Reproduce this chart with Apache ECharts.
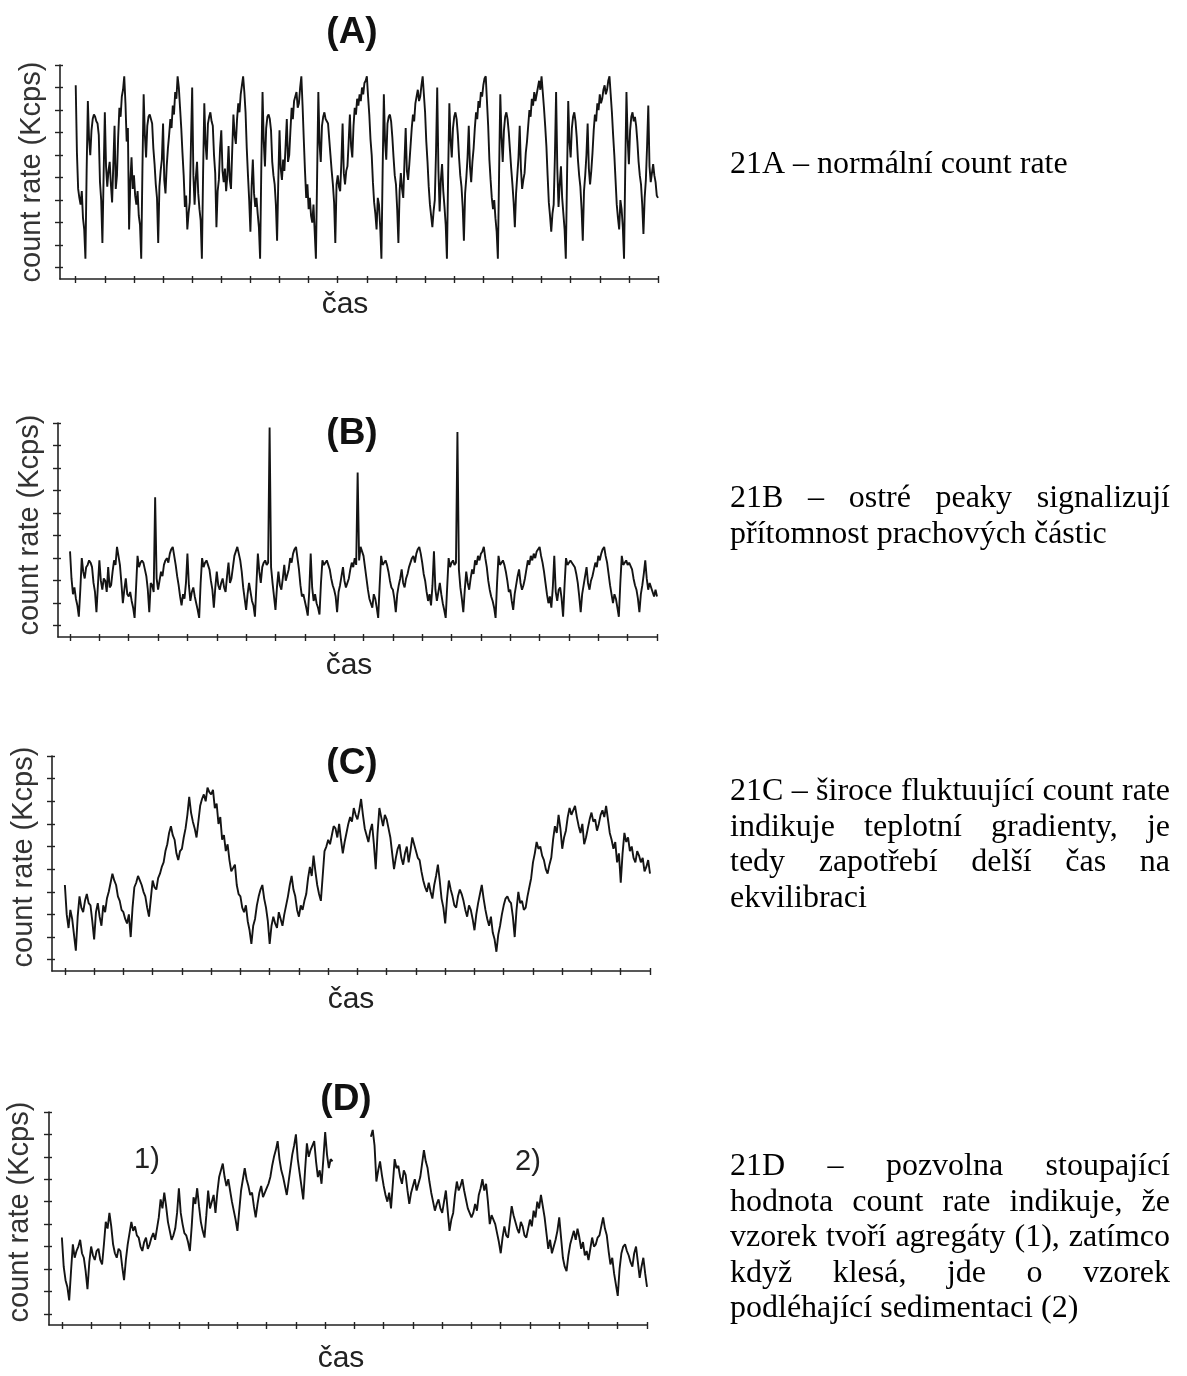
<!DOCTYPE html>
<html><head><meta charset="utf-8">
<script src="https://cdn.jsdelivr.net/npm/echarts@6/dist/echarts.min.js"></script>
<style>html,body{margin:0;padding:0;background:#fff}#c{width:1187px;height:1376px}</style>
</head><body><div id="c"></div>
<script>
// ---------- data ----------
const panelTitles = ['(A)', '(B)', '(C)', '(D)'];
const yAxisName = 'count rate (Kcps)';
const xAxisName = 'čas';
const segmentLabels = ['1)', '2)'];
const xTicks = [0,1,2,3,4,5,6,7,8,9,10,11,12,13,14,15,16,17,18,19,20];
const yTicks = [0.5,1.5,2.5,3.5,4.5,5.5,6.5,7.5,8.5,9.5];

const countA = [
 8.6,5.6,4.0,3.6,3.3,3.9,2.7,2.2,0.9,4.8,7.9,6.2,5.5,6.6,7.1,7.3,7.2,7.0,6.9,6.4,4.3,3.5,1.6,4.6,
 7.4,5.0,4.1,4.8,5.2,4.2,3.4,5.1,6.8,4.0,4.6,6.3,7.6,7.2,8.1,8.4,9.0,7.8,6.1,6.7,2.2,4.3,5.4,4.0,
 4.6,3.7,3.3,3.9,2.8,2.4,0.9,4.9,8.2,6.4,5.4,6.8,7.2,7.3,7.1,6.9,5.8,5.1,4.2,3.6,1.6,4.1,4.8,5.3,
 6.9,4.4,3.8,5.0,5.8,6.4,7.1,6.7,7.7,7.3,8.3,8.0,9.0,8.5,7.6,6.7,5.6,4.6,3.2,3.7,2.2,2.9,3.4,6.0,
 8.5,4.6,3.3,4.5,5.2,3.8,3.1,2.6,0.9,4.7,7.8,6.0,5.3,6.9,7.2,7.4,7.0,6.8,5.5,4.7,2.3,3.9,4.4,5.8,
 6.6,4.8,4.3,4.9,3.9,4.6,5.9,4.4,4.0,5.7,7.3,6.4,6.0,7.1,7.8,7.4,8.2,8.6,9.0,8.3,7.4,5.8,4.6,3.5,
 2.1,4.1,5.3,3.8,3.2,3.6,2.9,2.3,0.9,5.0,8.3,6.1,5.0,6.7,7.2,7.3,7.1,6.6,5.2,4.6,4.2,3.3,1.7,4.4,
 6.6,4.9,4.4,5.3,4.8,5.9,7.1,5.2,5.5,6.6,7.6,7.1,7.9,8.1,8.3,7.6,7.8,8.5,9.0,7.7,6.2,4.8,3.6,4.2,
 3.1,3.6,2.8,2.5,3.3,2.1,0.9,4.6,8.3,6.0,5.2,6.8,7.2,7.4,7.1,7.0,6.9,6.2,5.5,4.8,4.2,3.4,1.6,4.2,
 4.6,4.1,3.9,5.2,6.9,4.7,4.2,4.8,5.0,6.1,7.3,5.9,5.4,6.8,7.6,7.3,8.0,7.7,8.2,7.9,8.5,8.2,8.7,8.8,
 9.0,8.1,7.3,6.2,5.5,4.3,3.4,2.9,2.2,3.6,3.3,2.3,0.9,4.8,8.2,6.1,5.3,6.9,7.2,7.3,7.0,6.3,5.4,4.6,
 4.2,3.1,1.6,3.9,4.7,4.0,3.6,5.2,6.7,4.8,4.4,5.1,5.9,6.7,7.3,7.0,7.8,8.1,8.4,7.9,8.1,8.6,9.0,8.2,
 7.4,6.1,5.2,4.1,3.3,2.8,2.3,3.0,3.5,5.6,8.5,4.8,3.0,4.4,5.1,3.9,3.2,2.4,0.9,4.6,7.8,6.2,5.4,6.7,
 7.2,7.4,7.1,6.4,5.4,4.6,4.1,3.2,1.7,3.8,4.5,5.4,6.8,5.0,4.3,5.2,5.8,6.7,7.4,7.1,7.9,7.6,8.3,8.1,
 8.6,8.9,9.0,7.9,6.8,5.3,4.4,3.6,3.1,3.5,2.7,2.1,0.9,4.7,8.2,6.3,5.2,6.6,7.2,7.4,7.1,6.5,5.7,4.9,
 4.2,3.4,2.3,3.8,4.6,5.4,6.8,4.9,4.0,4.4,4.7,5.6,6.1,6.8,7.5,7.2,8.0,7.7,8.3,7.9,8.2,8.5,8.8,8.4,
 9.0,8.3,7.6,6.8,5.9,4.6,3.4,2.8,2.1,2.9,3.3,5.4,8.3,4.9,3.2,4.2,5.0,3.6,2.9,2.2,0.9,4.5,7.9,6.1,
 5.4,6.7,7.2,7.4,7.0,6.3,5.3,4.6,4.1,3.1,1.7,3.9,4.6,5.5,6.9,4.9,4.2,4.8,5.6,6.6,7.3,7.0,7.8,7.5,
 8.2,7.8,8.0,8.4,8.6,8.2,8.4,8.8,9.0,8.2,7.4,6.4,5.5,4.4,3.3,2.7,2.2,3.5,3.1,2.3,0.9,4.9,8.3,6.2,
 5.1,6.6,7.2,7.4,7.0,7.2,6.8,6.1,5.2,4.6,4.2,3.3,2.0,3.6,4.4,5.9,7.7,5.0,4.3,4.7,5.1,4.6,4.3,3.7,
 3.6
];

const countB = [
 3.8,2.6,1.9,2.2,1.7,1.4,0.9,2.1,3.5,2.9,2.6,3.1,3.2,3.4,3.3,3.1,2.4,2.0,1.1,2.3,
 3.4,2.5,2.1,2.6,2.5,2.0,3.1,2.2,2.3,2.9,3.4,3.2,4.0,3.6,3.2,2.4,1.5,2.1,2.6,1.9,
 1.8,2.0,1.6,1.3,0.85,2.2,3.6,3.1,3.3,3.4,3.3,3.0,2.7,2.1,1.1,2.4,2.3,2.0,6.2,2.6,
 2.1,2.5,2.9,2.7,3.2,3.4,3.5,3.3,3.7,3.9,4.0,3.6,3.2,2.7,2.3,1.8,1.4,1.9,1.7,2.4,
 3.7,2.3,1.6,2.0,2.2,1.8,1.5,1.2,0.85,2.4,3.5,3.1,3.3,3.4,3.2,3.0,2.5,2.1,1.3,2.2,
 2.9,2.3,2.1,2.4,2.6,2.2,2.0,2.7,3.3,2.4,2.6,3.1,3.6,3.8,4.0,3.7,3.4,2.9,2.2,1.7,
 1.2,1.9,2.4,2.0,1.6,1.4,0.9,2.3,3.7,2.9,2.4,3.1,3.3,3.4,3.2,3.3,9.3,3.1,2.4,1.8,
 1.2,2.2,2.9,2.3,2.1,2.6,3.2,2.5,2.5,3.0,3.5,3.3,3.7,3.9,4.0,3.5,3.0,2.3,1.8,1.9,
 1.6,1.3,0.95,2.0,3.7,2.2,1.6,1.9,1.5,1.3,1.0,2.4,3.4,3.2,3.3,3.4,3.2,3.0,2.6,2.3,
 2.1,1.8,1.1,2.0,2.3,2.7,3.1,2.5,2.2,2.4,2.6,3.0,3.3,3.1,3.5,3.2,7.3,3.4,4.0,3.8,
 3.6,3.1,2.6,2.1,1.7,1.5,1.3,1.9,1.7,1.3,0.85,2.3,3.6,3.2,3.3,3.4,3.2,2.9,2.5,2.2,
 2.1,1.7,1.1,1.9,2.3,2.6,3.0,2.4,2.2,2.6,2.8,3.1,3.3,3.5,3.6,3.3,3.7,3.9,4.0,3.7,
 3.3,2.8,2.5,2.0,1.6,1.9,1.4,2.3,3.8,2.1,1.6,2.0,2.4,1.9,1.5,1.2,0.85,2.2,3.5,3.1,
 3.3,3.4,3.2,3.3,9.1,3.0,2.2,1.7,1.1,2.1,2.9,2.4,2.1,2.6,3.0,2.8,3.4,3.2,3.6,3.4,
 3.7,3.8,4.0,3.5,3.1,2.5,2.1,1.8,1.6,1.3,0.85,2.4,3.6,3.2,3.3,3.4,3.2,2.9,2.5,2.0,
 2.1,1.6,1.2,1.9,2.3,2.7,3.0,2.4,2.1,2.3,2.6,3.0,3.4,3.2,3.6,3.4,3.7,3.5,3.8,3.9,
 4.0,3.6,3.3,2.9,2.4,1.9,1.5,1.8,1.3,2.2,3.6,2.0,1.6,2.1,2.2,1.7,0.9,2.3,3.5,3.2,
 3.2,3.4,3.3,3.2,3.1,2.8,2.4,1.8,1.1,1.9,2.3,2.7,3.1,2.4,2.1,2.5,2.7,3.0,3.3,3.1,
 3.6,3.4,3.7,3.9,4.0,3.6,3.3,2.8,2.3,1.9,1.5,1.9,1.7,1.3,0.9,2.4,3.6,3.2,3.3,3.4,
 3.2,3.3,3.3,3.0,2.6,2.3,2.1,1.7,1.1,1.9,2.3,2.8,3.4,2.6,2.1,2.4,2.4,2.0,1.8,2.1,
 1.8
];

const countC = [
 3.8,2.5,1.9,2.7,2.3,1.6,0.9,2.4,3.3,2.8,2.6,3.1,3.4,3.0,2.9,2.2,
 1.4,2.6,3.0,2.4,2.0,2.9,2.6,3.2,3.5,3.9,4.3,4.0,3.8,3.3,3.1,2.7,
 2.6,2.3,2.1,2.5,1.5,2.8,3.7,3.9,4.2,4.0,3.8,3.5,3.3,2.8,2.4,3.2,
 4.0,3.7,3.6,4.1,4.3,4.6,4.8,5.3,5.6,6.1,6.4,6.0,5.8,5.2,4.9,5.3,
 5.4,5.9,6.3,6.9,7.7,7.0,6.6,6.3,5.9,6.6,7.3,7.6,7.8,7.5,8.1,7.9,
 7.8,8.0,7.2,7.4,6.5,6.8,5.8,6.0,5.3,5.6,4.9,4.4,4.4,4.7,3.8,3.4,
 3.3,2.8,2.6,2.9,2.2,1.8,1.2,2.0,2.3,2.9,3.3,3.6,3.8,3.2,2.8,2.2,
 1.2,2.0,2.4,2.1,1.9,2.6,2.3,2.0,2.5,2.9,3.3,3.8,4.2,3.6,3.3,2.7,
 2.4,2.9,2.7,3.1,3.4,4.1,4.6,4.2,5.1,4.4,3.8,3.4,3.1,4.2,5.3,5.5,
 5.8,5.6,6.0,6.4,6.3,5.9,6.5,5.8,5.2,5.7,6.1,6.5,6.8,6.6,7.2,6.9,
 6.7,7.1,7.6,6.9,6.3,6.0,5.7,6.2,6.5,5.6,4.5,6.1,7.2,6.8,6.4,6.9,
 6.7,6.3,5.9,5.2,4.5,5.0,5.4,5.6,5.0,4.7,5.2,5.5,4.8,5.3,5.9,5.6,
 5.3,5.0,4.9,4.4,4.0,3.7,3.5,3.9,3.5,3.2,3.8,4.2,4.7,4.0,3.2,2.8,
 2.1,3.2,4.0,3.6,3.3,2.9,2.8,3.3,3.6,3.4,3.1,2.7,2.4,2.9,2.7,2.3,
 1.8,2.5,3.0,3.4,3.8,3.2,2.7,2.3,2.0,2.4,1.7,1.4,0.85,1.6,2.0,2.5,
 2.9,3.2,3.3,3.1,3.0,2.4,1.5,2.7,3.5,3.0,3.1,2.7,2.8,3.3,3.7,4.1,
 4.8,5.2,5.7,5.4,5.5,5.1,4.9,4.5,4.3,4.7,5.0,5.8,6.4,6.1,6.9,6.3,
 5.4,5.9,6.2,6.8,7.2,6.9,7.1,7.3,6.8,6.4,6.1,6.5,5.6,5.9,6.3,6.7,
 7.0,6.6,6.7,6.2,6.5,6.9,7.1,6.8,7.3,6.7,6.1,5.8,5.4,5.7,4.8,5.2,
 3.9,5.2,6.1,5.7,5.9,5.3,5.5,5.0,4.8,5.3,5.1,4.8,5.0,4.4,4.6,4.9,
 4.3
];

const countD = [
 3.9,2.6,2.0,1.7,1.1,2.4,3.6,3.0,3.3,3.5,3.8,3.2,3.0,2.4,1.6,2.8,
 3.5,3.1,2.9,3.3,3.4,2.9,2.7,3.6,4.6,4.3,5.0,4.4,3.6,3.2,3.0,3.4,
 3.3,2.6,2.0,2.9,3.6,4.1,4.6,4.2,4.4,4.0,3.9,3.5,3.3,3.7,3.9,3.4,
 3.6,3.9,4.1,3.8,4.3,4.8,5.6,5.2,5.9,5.3,4.6,4.2,3.8,4.0,4.3,5.0,
 6.1,5.0,4.5,4.1,4.0,3.7,3.3,4.4,5.7,5.4,6.1,5.3,4.6,4.2,3.9,4.9,
 6.0,5.2,5.5,5.8,5.0,5.9,6.6,6.9,7.2,6.6,6.2,6.5,6.0,5.5,5.1,4.7,
 4.2,5.1,6.0,6.5,7.0,6.5,6.2,5.8,5.9,5.3,4.8,5.4,5.9,6.2,5.7,5.9,
 6.1,6.3,6.6,7.1,7.5,7.8,8.2,7.4,6.9,6.6,6.2,5.8,6.4,7.0,7.6,8.0,
 8.5,7.4,6.8,6.2,5.6,6.9,8.1,7.5,7.8,8.0,8.2,7.3,6.6,6.9,6.3,7.4,
 8.6,7.6,7.0,7.4,7.3,null,null,null,null,null,null,null,null,null,null,null,
 null,null,null,null,null,null,null,null,null,8.4,8.7,8.0,6.4,6.9,7.3,6.7,
 6.2,5.8,5.5,5.9,5.2,6.3,7.4,7.0,7.1,6.6,6.3,6.9,6.7,6.0,5.4,5.9,
 6.2,6.5,6.0,6.3,6.6,7.2,7.8,7.3,7.0,6.4,5.9,5.5,5.1,5.4,5.6,5.2,
 5.0,5.5,6.0,5.1,4.2,4.7,5.0,5.8,6.4,6.0,6.2,6.5,6.0,5.6,5.2,5.0,
 4.8,5.0,5.4,5.1,5.8,6.1,6.5,6.0,6.3,5.5,4.5,4.9,4.9,4.5,4.1,3.7,
 3.2,3.9,4.4,4.0,3.9,4.6,5.3,4.9,4.6,4.3,4.1,4.6,4.4,4.0,3.9,4.3,
 4.7,4.4,5.1,4.8,5.5,5.2,5.8,5.3,4.8,4.1,3.4,3.8,3.2,3.5,3.8,4.2,
 4.8,3.9,3.0,2.6,2.4,3.1,3.6,3.9,4.2,3.8,4.3,3.9,3.4,3.7,3.1,3.3,
 2.9,3.4,3.9,3.5,3.6,3.9,4.0,4.4,4.8,4.3,4.0,3.3,2.7,3.0,2.3,1.8,
 1.3,2.5,3.2,3.5,3.6,3.3,3.1,2.8,2.6,3.2,3.5,2.8,2.1,2.6,3.0,2.3,
 1.7
];

const captionA = ['21A – normální count rate'];
const captionB = ['21B – ostré peaky signalizují', 'přítomnost prachových částic'];
const captionC = ['21C – široce fluktuující count rate', 'indikuje teplotní gradienty, je', 'tedy zapotřebí delší čas na', 'ekvilibraci'];
const captionD = ['21D – pozvolna stoupající', 'hodnota count rate indikuje, že', 'vzorek tvoří agregáty (1), zatímco', 'když klesá, jde o vzorek', 'podléhající sedimentaci (2)'];

// ---------- layout ----------
const X_MAX = 20, Y_MAX = 9.5;
const panels = [
  {data: countA, caption: captionA, grid:{left:60, top:65, width:598, height:214}, xmin:-0.54,
   title:[352,33], ylab:[32,172], xlab:[345,305], capBase:178},
  {data: countB, caption: captionB, grid:{left:58, top:423, width:599, height:214}, xmin:-0.41,
   title:[352,434], ylab:[30,525], xlab:[349,666], capBase:512},
  {data: countC, caption: captionC, grid:{left:52, top:756, width:598, height:215}, xmin:-0.44,
   title:[352,764], ylab:[24,857], xlab:[351,1000], capBase:805},
  {data: countD, caption: captionD, grid:{left:49, top:1112, width:598, height:213}, xmin:-0.44,
   title:[346,1100], ylab:[20,1212], xlab:[341,1359], capBase:1180}
];
const segPos = [[147,1160],[528,1162]];

const AX = '#222';
const SANS = '"Liberation Sans", Arial, sans-serif';
const SERIF = '"Liberation Serif", "Times New Roman", serif';

const grids = [], xAxes = [], yAxes = [], series = [], graphics = [];
panels.forEach((p, i) => {
  grids.push(Object.assign({containLabel:false}, p.grid));
  const xBase = {gridIndex:i, type:'value', min:p.xmin, max:X_MAX, position:'bottom',
    axisLabel:{show:false}, splitLine:{show:false}};
  xAxes.push(Object.assign({}, xBase, {
    axisLine:{show:true, onZero:false, lineStyle:{color:AX, width:1.6}},
    axisTick:{show:true, inside:false, length:4, customValues:xTicks, lineStyle:{color:AX, width:1.4}}}));
  xAxes.push(Object.assign({}, xBase, {
    axisLine:{show:false, onZero:false},
    axisTick:{show:true, inside:true, length:3, customValues:xTicks, lineStyle:{color:AX, width:1.4}}}));
  const yBase = {gridIndex:i, type:'value', min:0, max:Y_MAX, position:'left',
    axisLabel:{show:false}, splitLine:{show:false}};
  yAxes.push(Object.assign({}, yBase, {
    axisLine:{show:true, onZero:false, lineStyle:{color:AX, width:1.6}},
    axisTick:{show:true, inside:false, length:5, customValues:yTicks, lineStyle:{color:AX, width:1.4}}}));
  yAxes.push(Object.assign({}, yBase, {
    axisLine:{show:false, onZero:false},
    axisTick:{show:true, inside:true, length:3, customValues:yTicks, lineStyle:{color:AX, width:1.4}}}));
  const n = p.data.length;
  series.push({type:'line', xAxisIndex:2*i, yAxisIndex:2*i, symbol:'none', showSymbol:false,
    connectNulls:false, silent:true,
    lineStyle:{color:'#141414', width:1.9, join:'bevel'},
    data: p.data.map((v, k) => [k * X_MAX / (n - 1), v])});

  graphics.push({type:'text', x:p.title[0], y:p.title[1], style:{text:panelTitles[i],
    font:'bold 37px ' + SANS, fill:'#111', textAlign:'center', textVerticalAlign:'middle', align:'center', verticalAlign:'middle'}});
  graphics.push({type:'text', x:p.ylab[0], y:p.ylab[1], rotation:Math.PI/2, style:{text:yAxisName,
    font:'29px ' + SANS, fill:'#333', textAlign:'center', textVerticalAlign:'middle', align:'center', verticalAlign:'middle'}});
  graphics.push({type:'text', x:p.xlab[0], y:p.xlab[1], style:{text:xAxisName,
    font:'30px ' + SANS, fill:'#222', textAlign:'center', textVerticalAlign:'middle', align:'center', verticalAlign:'middle'}});
});
segmentLabels.forEach((t, k) => {
  graphics.push({type:'text', x:segPos[k][0], y:segPos[k][1], style:{text:t,
    font:'29px ' + SANS, fill:'#222', textAlign:'center', textVerticalAlign:'middle', align:'center', verticalAlign:'middle'}});
});

// justified captions
const CAP_FONT = '32px ' + SERIF;
const CAP_X0 = 730, CAP_X1 = 1170, CAP_LH = 35.4;
const mctx = document.createElement('canvas').getContext('2d');
mctx.font = CAP_FONT;
panels.forEach(p => {
  p.caption.forEach((line, li) => {
    const words = line.split(' ');
    const widths = words.map(w => mctx.measureText(w).width);
    const justify = li < p.caption.length - 1 && words.length > 1;
    let gap = mctx.measureText(' ').width;
    if (justify) gap = (CAP_X1 - CAP_X0 - widths.reduce((a, b) => a + b, 0)) / (words.length - 1);
    let x = CAP_X0;
    const yMid = p.capBase + li * CAP_LH - 13;
    words.forEach((w, wi) => {
      graphics.push({type:'text', x:x, y:yMid, style:{text:w, font:CAP_FONT, fill:'#000',
        textAlign:'left', textVerticalAlign:'middle', align:'left', verticalAlign:'middle'}});
      x += widths[wi] + gap;
    });
  });
});

const chart = echarts.init(document.getElementById('c'), null, {renderer:'canvas'});
chart.setOption({
  animation:false,
  backgroundColor:'#fff',
  grid:grids, xAxis:xAxes, yAxis:yAxes, series:series,
  graphic:{elements:graphics}
});
</script></body></html>
